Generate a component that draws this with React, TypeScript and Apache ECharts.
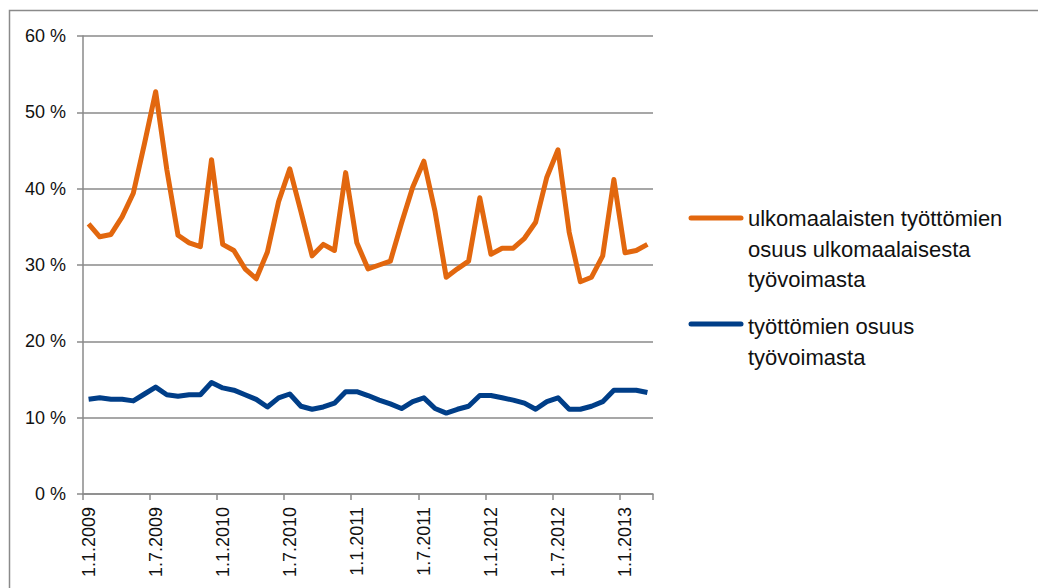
import React, { useEffect, useRef } from "react";
import * as echarts from "echarts";

const months: string[] = [];
for (let y = 2009; y <= 2013; y++) {
  for (let m = 1; m <= 12; m++) {
    if (y === 2013 && m > 3) break;
    months.push(`1.${m}.${y}`);
  }
}

const foreignShare = [
  35.4, 33.7, 34.0, 36.3, 39.4, 45.9, 52.7, 42.5, 33.9, 32.9, 32.4, 43.8,
  32.7, 31.9, 29.5, 28.2, 31.7, 38.3, 42.6, 37.0, 31.2, 32.7, 31.9, 42.1,
  32.9, 29.5, 30.0, 30.5, 35.5, 40.2, 43.6, 37.0, 28.4, 29.5, 30.5, 38.8,
  31.4, 32.2, 32.2, 33.5, 35.6, 41.5, 45.1, 34.3, 27.8, 28.4, 31.2, 41.2,
  31.6, 31.9, 32.7,
];

const totalShare = [
  12.4, 12.6, 12.4, 12.4, 12.2, 13.1, 14.0, 13.0, 12.8, 13.0, 13.0, 14.6,
  13.9, 13.6, 13.0, 12.4, 11.4, 12.6, 13.1, 11.5, 11.1, 11.4, 11.9, 13.4,
  13.4, 12.9, 12.3, 11.8, 11.2, 12.1, 12.6, 11.2, 10.6, 11.1, 11.5, 12.9,
  12.9, 12.6, 12.3, 11.9, 11.1, 12.1, 12.6, 11.1, 11.1, 11.5, 12.1, 13.6,
  13.6, 13.6, 13.3,
];

const seriesNames = [
  "ulkomaalaisten työttömien\nosuus ulkomaalaisesta\ntyövoimasta",
  "työttömien osuus\ntyövoimasta",
];
const colors = ["#E2670E", "#003E88"];

export default function App() {
  const ref = useRef<HTMLDivElement>(null);
  useEffect(() => {
    if (!ref.current) return;
    const chart = echarts.init(ref.current, undefined, { renderer: "svg" });
    const font = "'Liberation Sans', Arial, sans-serif";
    chart.setOption({
      animation: false,
      backgroundColor: "#ffffff",
      grid: { left: 83, right: 385, top: 36, bottom: 94, containLabel: false },
      xAxis: {
        type: "category",
        data: months,
        boundaryGap: true,
        axisLine: { lineStyle: { color: "#8a8a8a", width: 1.5 } },
        axisTick: { show: true, interval: 5, length: 6, lineStyle: { color: "#8a8a8a", width: 1.5 } },
        axisLabel: {
          interval: 5,
          rotate: 90,
          margin: 13,
          color: "#111",
          fontSize: 18,
          fontFamily: font,
        },
        splitLine: { show: false },
      },
      yAxis: {
        type: "value",
        min: 0,
        max: 60,
        interval: 10,
        axisLine: { show: true, lineStyle: { color: "#8a8a8a", width: 1.5 } },
        axisTick: { show: true, length: 6, lineStyle: { color: "#8a8a8a", width: 1.5 } },
        axisLabel: {
          formatter: "{value} %",
          color: "#111",
          fontSize: 18,
          fontFamily: font,
          margin: 17,
        },
        splitLine: { lineStyle: { color: "#8a8a8a", width: 1.5 } },
      },
      series: [
        {
          name: seriesNames[0],
          type: "line",
          data: foreignShare,
          symbol: "none",
          lineStyle: { color: colors[0], width: 5, join: "round" },
          itemStyle: { color: colors[0] },
        },
        {
          name: seriesNames[1],
          type: "line",
          data: totalShare,
          symbol: "none",
          lineStyle: { color: colors[1], width: 5, join: "round" },
          itemStyle: { color: colors[1] },
        },
      ],
      graphic: [
        {
          type: "rect",
          silent: true,
          shape: { x: 9.5, y: 10.5, width: 1040, height: 600 },
          style: { fill: "none", stroke: "#8a8a8a", lineWidth: 1.5 },
        },
        {
          type: "line",
          shape: { x1: 691, y1: 218, x2: 741, y2: 218 },
          style: { stroke: colors[0], lineWidth: 5, lineCap: "round" },
        },
        {
          type: "text",
          x: 748,
          y: 203.5,
          style: {
            text: seriesNames[0],
            font: `22px ${font}`,
            fill: "#111",
            lineHeight: 30.5,
            verticalAlign: "top",
            align: "left",
          },
        },
        {
          type: "line",
          shape: { x1: 691, y1: 324, x2: 741, y2: 324 },
          style: { stroke: colors[1], lineWidth: 5, lineCap: "round" },
        },
        {
          type: "text",
          x: 748,
          y: 311.5,
          style: {
            text: seriesNames[1],
            font: `22px ${font}`,
            fill: "#111",
            lineHeight: 30.5,
            verticalAlign: "top",
            align: "left",
          },
        },
      ],
    });
    return () => chart.dispose();
  }, []);
  return (
    <div
      ref={ref}
      style={{ position: "fixed", left: 0, top: 0, width: 1038, height: 588 }}
    />
  );
}
